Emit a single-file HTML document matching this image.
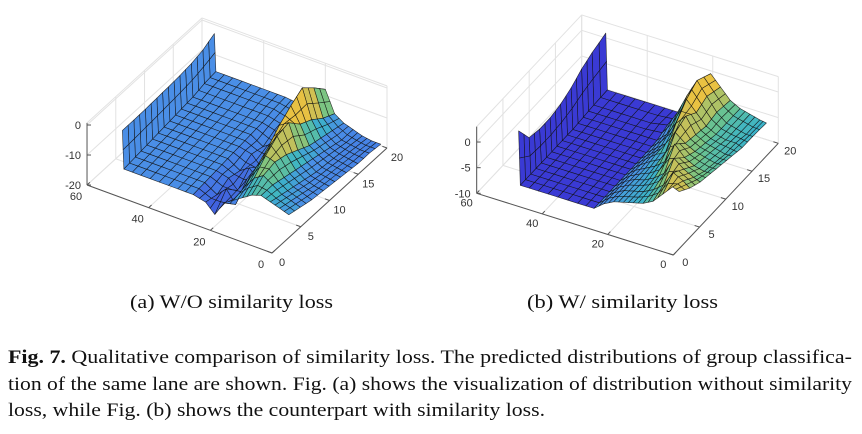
<!DOCTYPE html>
<html><head><meta charset="utf-8">
<style>
html,body{margin:0;padding:0;background:#fff;}
svg{display:block;}
</style></head>
<body>
<svg id="fig" width="862" height="434" viewBox="0 0 862 434" xmlns="http://www.w3.org/2000/svg">
  <g id="chartA"></g>
  <g id="chartB"></g>
  <text x="130" y="308" textLength="203" lengthAdjust="spacingAndGlyphs" font-family="Liberation Serif, serif" font-size="19" fill="#111">(a) W/O similarity loss</text>
  <text x="527" y="308" textLength="191" lengthAdjust="spacingAndGlyphs" font-family="Liberation Serif, serif" font-size="19" fill="#111">(b) W/ similarity loss</text>
  <g font-family="Liberation Serif, serif" font-size="19" fill="#111">
    <text x="8" y="363" textLength="844" lengthAdjust="spacingAndGlyphs"><tspan font-weight="bold">Fig. 7.</tspan> Qualitative comparison of similarity loss. The predicted distributions of group classifica-</text>
    <text x="8" y="390" textLength="844" lengthAdjust="spacingAndGlyphs">tion of the same lane are shown. Fig. (a) shows the visualization of distribution without similarity</text>
    <text x="8" y="416" textLength="537" lengthAdjust="spacingAndGlyphs">loss, while Fig. (b) shows the counterpart with similarity loss.</text>
  </g>
</svg>
<script>
// ---------- Chart A data ----------
const A_xTicks = [0, 20, 40, 60];
const A_yTicks = [0, 5, 10, 15, 20];
const A_zTicks = [-20, -10, 0];
const A_xs = [56, 55.5, 50, 44, 38, 33, 29, 26, 23, 20, 17, 14, 11, 8, 5, 2];
const A_ys = [4, 6, 8, 10, 12, 14, 16, 18, 20];
const A_z = [
  [-7.3, -20, -20, -20, -20, -20, -21, -24, -19, -17, -15, -13, -12, -13, -14, -15],
  [-7.3, -19.5, -19.5, -19.5, -19.5, -19.5, -22, -19, -23, -16, -12, -10, -12, -14, -15, -16],
  [-7.2, -19, -19, -19, -19, -19, -20, -23, -18, -13, -8, -9, -13, -15, -16, -17],
  [-7, -18.5, -18.5, -18.5, -18.5, -18.5, -21, -19, -22, -10, -5, -10, -14, -16, -17, -17.5],
  [-6.8, -18, -18, -18, -18, -18, -19, -22, -17, -6, -4, -12, -15, -17, -17.5, -18],
  [-6.5, -17.5, -17.5, -17.5, -17.5, -17.5, -20, -18, -21, -3, -8, -14, -16, -17.5, -18, -18.5],
  [-6, -17, -17, -17, -17, -17, -18, -21, -12, -0.5, -10, -15, -17, -18, -18.5, -19],
  [-5, -16, -16, -16, -16, -16, -17, -19, -10, -4, -13, -16, -18, -18.5, -19, -19],
  [-3, -15.5, -15.5, -15.5, -15.5, -15.5, -16, -17, -12, -8, -15, -17, -18, -19, -19.5, -19.5]
];
// ---------- Chart B data ----------
const B_xTicks = [0, 20, 40, 60];
const B_yTicks = [0, 5, 10, 15, 20];
const B_zTicks = [-10, -5, 0];
const B_xs = [52, 51.5, 46, 40, 34, 29, 26, 23, 20, 17, 14, 11, 8, 5, 3];
const B_ys = [3, 5, 7, 9, 11, 13, 15, 17, 19.6];
const B_z = [
  [0.5, -10, -10, -10, -10, -10, -8.5, -7.5, -7, -6.5, -6, -5, -3, -1, -1.5],
  [-3, -10, -10, -10, -10, -10, -8.5, -7.5, -7, -6.5, -5.5, -4, -1, -2, -3],
  [-3.5, -10, -10, -10, -10, -10, -8.5, -7.5, -7, -6, -4.5, -1, -2.5, -3.5, -4],
  [-3.5, -10, -10, -10, -10, -10, -8.5, -7.5, -6.5, -5, -1, -3, -4, -4.5, -4.5],
  [-3, -10, -10, -10, -10, -10, -8.5, -7, -6, -1.5, -3, -4, -4.5, -5, -5],
  [-2, -10, -10, -10, -10, -10, -8.5, -7, -2.5, -0.5, -3.5, -4.5, -5, -5.5, -5.5],
  [-0.5, -9.8, -9.8, -9.8, -9.8, -9.8, -8, -5, 0, -2, -4, -5, -5.5, -5.5, -6],
  [0.5, -9.6, -9.6, -9.6, -9.6, -9, -6, -2, 1.5, -1, -3.5, -5, -5.5, -6, -6],
  [1.5, -9.5, -9.5, -9.5, -9.5, -9.5, -7, -3, 0, -2, -4, -5, -5.5, -6, -6.2]
];

const NS = 'http://www.w3.org/2000/svg';
const cmapStops = [[0,'#3a3ad4'],[0.2,'#4680e6'],[0.36,'#4a90e6'],[0.5,'#3cb4c8'],[0.62,'#70c588'],[0.75,'#c8c058'],[0.88,'#f2c23c'],[1,'#f8d84a']];
function hex(h){return [parseInt(h.slice(1,3),16),parseInt(h.slice(3,5),16),parseInt(h.slice(5,7),16)];}
function cmap(t){
  t=Math.max(0,Math.min(1,t));
  for(let i=0;i<cmapStops.length-1;i++){
    const a=cmapStops[i],b=cmapStops[i+1];
    if(t<=b[0]){const f=(t-a[0])/(b[0]-a[0]);const ca=hex(a[1]),cb=hex(b[1]);
      return 'rgb('+ca.map((v,k)=>Math.round(v+(cb[k]-v)*f)).join(',')+')';}
  }
  return cmapStops[cmapStops.length-1][1];
}
function el(tag, attrs, parent){const e=document.createElementNS(NS,tag);for(const k in attrs)e.setAttribute(k,attrs[k]);parent.appendChild(e);return e;}

function buildChart(g, cfg){
  const P=(x,y,z)=>[cfg.o[0]+cfg.ex[0]*x+cfg.ey[0]*y, cfg.o[1]+cfg.ex[1]*x+cfg.ey[1]*y-cfg.ez*(z-cfg.zlim[0])];
  const [x0,x1]=cfg.xlim,[y0,y1]=cfg.ylim,[z0,z1]=cfg.zlim;
  const gridG=el('g',{},g);
  
  
  const line=(a,b,stroke,w,name)=>{const l=el('line',{x1:a[0],y1:a[1],x2:b[0],y2:b[1],stroke:stroke,'stroke-width':w},gridG);
    
    };
  const gc='#e2e2e2';
  cfg.xTicks.forEach(x=>line(P(x,y0,z0),P(x,y1,z0),gc,1,'floor-gridline'));
  cfg.yTicks.forEach(y=>line(P(x0,y,z0),P(x1,y,z0),gc,1,'floor-gridline'));
  cfg.yTicks.forEach(y=>line(P(x1,y,z0),P(x1,y,z1),gc,1,'wall-gridline'));
  cfg.zTicks.forEach(z=>line(P(x1,y0,z),P(x1,y1,z),gc,1,'wall-gridline'));
  cfg.xTicks.forEach(x=>line(P(x,y1,z0),P(x,y1,z1),gc,1,'wall-gridline'));
  cfg.zTicks.forEach(z=>line(P(x0,y1,z),P(x1,y1,z),gc,1,'wall-gridline'));
  line(P(x1,y0,z1),P(x1,y1,z1),gc,1,'box-edge');
  line(P(x0,y1,z1),P(x1,y1,z1),gc,1,'box-edge');
  const ac='#555';
  line(P(x0,y0,z0),P(x1,y0,z0),ac,1,'x-axis');
  line(P(x0,y0,z0),P(x0,y1,z0),ac,1,'y-axis');
  line(P(x1,y0,z0),P(x1,y0,z1),ac,1,'z-axis');
  cfg.xTicks.forEach(x=>line(P(x,y0,z0),P(x,y0+0.5,z0),ac,1,'x-tick'));
  cfg.yTicks.forEach(y=>line(P(x0,y,z0),P(x0+1.5,y,z0),ac,1,'y-tick'));
  cfg.zTicks.forEach(z=>{const p=P(x1,y0,z);line(p,[p[0]+4,p[1]],ac,1,'z-tick');});
  const lab=(p,txt,anchor,name)=>{const t=el('text',{x:p[0],y:p[1],'text-anchor':anchor,'font-family':'Liberation Sans, sans-serif','font-size':'11',fill:'#333'},g);
    
    
    t.textContent=txt;};
  cfg.xTicks.forEach(x=>{const p=P(x,y0,z0);lab([p[0]+cfg.xOff[0],p[1]+cfg.xOff[1]],String(x),'middle','x-tick-label');});
  cfg.yTicks.forEach(y=>{const p=P(x0,y,z0);lab([p[0]+cfg.yOff[0],p[1]+cfg.yOff[1]],String(y),'middle','y-tick-label');});
  cfg.zTicks.forEach(z=>{const p=P(x1,y0,z);lab([p[0]-6,p[1]+4],String(z),'end','z-tick-label');});
  const sg=el('g',{},g);
  
  
  const xs=cfg.xs,ys=cfg.ys,Z=cfg.Z,cells=[];
  const S=2;
  const bil=(c,u,v)=>{const a=c[0],b=c[1],d=c[2],e=c[3];
    return [0,1,2].map(k=>(1-u)*(1-v)*a[k]+u*(1-v)*b[k]+u*v*d[k]+(1-u)*v*e[k]);};
  for(let i=0;i<ys.length-1;i++)for(let j=0;j<xs.length-1;j++){
    const c=[[xs[j],ys[i],Z[i][j]],[xs[j+1],ys[i],Z[i][j+1]],[xs[j+1],ys[i+1],Z[i+1][j+1]],[xs[j],ys[i+1],Z[i+1][j]]];
    const zm=(c[0][2]+c[1][2]+c[2][2]+c[3][2])/4;
    const lvl=j<cfg.fixedCells?cfg.fixedLevel:(zm-cfg.cLo)/(cfg.cHi-cfg.cLo);
    for(let a=0;a<S;a++)for(let b=0;b<S;b++){
      const pts=[bil(c,a/S,b/S),bil(c,(a+1)/S,b/S),bil(c,(a+1)/S,(b+1)/S),bil(c,a/S,(b+1)/S)];
      const xm=(pts[0][0]+pts[2][0])/2,ym=(pts[0][1]+pts[2][1])/2;
      const depth=-cfg.ex[1]*xm-cfg.ey[1]*ym;
      cells.push({pts,lvl,depth});
    }
  }
  cells.sort((a,b)=>b.depth-a.depth);
  cells.forEach(c=>{
    const s=c.pts.map(p=>P(p[0],p[1],p[2]).map(v=>v.toFixed(1)).join(',')).join(' ');
    const poly=el('polygon',{points:s,fill:cmap(c.lvl),stroke:'#111','stroke-width':'0.6','stroke-opacity':'0.85','stroke-linejoin':'round'},sg);
    
    
  });
}

buildChart(document.getElementById('chartA'),{
  o:[272,253],ex:[-3.083,-1.133],ey:[5.75,-5.25],ez:3,
  xlim:[0,60],ylim:[0,20],zlim:[-20,0.7],
  xTicks:A_xTicks,yTicks:A_yTicks,zTicks:A_zTicks,
  xOff:[-11,15],yOff:[10,13],
  xs:A_xs,ys:A_ys,Z:A_z,fixedCells:5,fixedLevel:0.34,cLo:-24,cHi:-2
});
buildChart(document.getElementById('chartB'),{
  o:[673.3,255],ex:[-3.277,-1.028],ey:[5.25,-5.585],ez:5.13,
  xlim:[0,60],ylim:[0,20],zlim:[-10,3],
  xTicks:B_xTicks,yTicks:B_yTicks,zTicks:B_zTicks,
  xOff:[-10,13],yOff:[12,11],
  xs:B_xs,ys:B_ys,Z:B_z,fixedCells:5,fixedLevel:0.0,cLo:-14,cHi:2
});
</script>
</body></html>
